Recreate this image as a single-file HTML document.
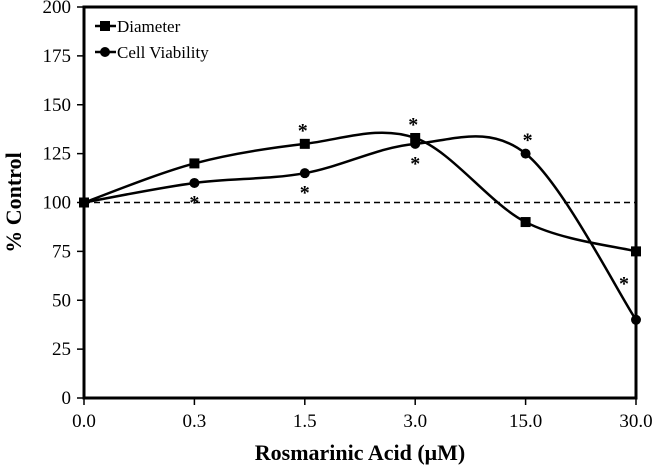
<!DOCTYPE html>
<html><head><meta charset="utf-8"><style>
body{margin:0;background:#fff}
svg text{font-family:"Liberation Serif",serif;fill:#000}
</style></head><body>
<svg id="c" width="653" height="466" xmlns="http://www.w3.org/2000/svg"></svg>
<script>
const categories=["0.0","0.3","1.5","3.0","15.0","30.0"];
const diameter=[100,120,130,133,90,75];
const viability=[100,110,115,130,125,40];
const yTicks=[0,25,50,75,100,125,150,175,200];
const diamStars=[2,3];
const viabStarsBelow=[1,2,3];
const viabStarsAbove=[4,5];
const L=84,R=636,T=7,B=398;
const x=i=>L+i*(R-L)/(categories.length-1);
const y=v=>B-v*(B-T)/200;
const svg=document.getElementById('c');
const NS='http://www.w3.org/2000/svg';
function mk(t,a,p){const e=document.createElementNS(NS,t);for(const k in a)e.setAttribute(k,a[k]);(p||svg).appendChild(e);return e;}
yTicks.forEach(v=>{
 const l=mk('line',{x1:L-7,x2:L,y1:y(v),y2:y(v),stroke:'#000','stroke-width':1.5});
 
 
 const t=mk('text',{x:L-13,y:y(v)+6,'text-anchor':'end','font-size':19});
 t.textContent=v;
 
 
});
categories.forEach((c,i)=>{
 const l=mk('line',{x1:x(i),x2:x(i),y1:B,y2:B+7,stroke:'#000','stroke-width':1.5});
 
 
 const t=mk('text',{x:x(i),y:B+29,'text-anchor':'middle','font-size':19});
 t.textContent=c;
 
 
});
const ref=mk('line',{x1:L,x2:R,y1:y(100),y2:y(100),stroke:'#000','stroke-width':1.5,'stroke-dasharray':'6,4'});


function smooth(vals){
 const p=vals.map((v,i)=>[x(i),y(v)]);
 let d='M'+p[0][0]+','+p[0][1];
 for(let i=0;i<p.length-1;i++){
  const p0=p[i-1]||p[i],p1=p[i],p2=p[i+1],p3=p[i+2]||p[i+1];
  const c1=[p1[0]+(p2[0]-p0[0])/6,p1[1]+(p2[1]-p0[1])/6];
  const c2=[p2[0]-(p3[0]-p1[0])/6,p2[1]-(p3[1]-p1[1])/6];
  d+=' C'+c1+' '+c2+' '+p2;
 }
 return d;
}
const pd=mk('path',{d:smooth(diameter),fill:'none',stroke:'#000','stroke-width':2.5});


const pv=mk('path',{d:smooth(viability),fill:'none',stroke:'#000','stroke-width':2.5});


diameter.forEach((v,i)=>{
 const m=mk('rect',{x:x(i)-5,y:y(v)-5,width:10,height:10,fill:'#000'});
 
 
});
viability.forEach((v,i)=>{
 const m=mk('circle',{cx:x(i),cy:y(v),r:5,fill:'#000'});
 
 
});
diamStars.forEach(i=>{
 const t=mk('text',{x:x(i)-2,y:y(diameter[i])-7,'text-anchor':'middle','font-size':20,'font-weight':'bold'});
 t.textContent='*';
 
 
});
viabStarsBelow.forEach(i=>{
 const t=mk('text',{x:x(i),y:y(viability[i])+26,'text-anchor':'middle','font-size':20,'font-weight':'bold'});
 t.textContent='*';
 
 
});
viabStarsAbove.forEach(i=>{
 const last=i==categories.length-1;
 const t=mk('text',{x:x(i)-(last?12:-2),y:last?y(viability[i])-30:y(viability[i])-7,'text-anchor':'middle','font-size':20,'font-weight':'bold'});
 t.textContent='*';
 
 
});
const fr=mk('rect',{x:L,y:T,width:R-L,height:B-T,fill:'none',stroke:'#000','stroke-width':3});


const lg=mk('g',{});


mk('line',{x1:95,x2:116,y1:26,y2:26,stroke:'#000','stroke-width':2.5},lg);
mk('rect',{x:100,y:21,width:10,height:10,fill:'#000'},lg);
const t1=mk('text',{x:117,y:32,'font-size':17},lg);t1.textContent='Diameter';
mk('line',{x1:95,x2:116,y1:52,y2:52,stroke:'#000','stroke-width':2.5},lg);
mk('circle',{cx:105,cy:52,r:5,fill:'#000'},lg);
const t2=mk('text',{x:117,y:58,'font-size':17},lg);t2.textContent='Cell Viability';
const xt=mk('text',{x:(L+R)/2,y:460,'text-anchor':'middle','font-size':22,'font-weight':'bold'});
xt.textContent='Rosmarinic Acid (μM)';


const yt=mk('text',{x:0,y:0,'text-anchor':'middle','font-size':22,'font-weight':'bold',transform:'translate(21,'+y(100)+') rotate(-90)'});
yt.textContent='% Control';


</script>
</body></html>
